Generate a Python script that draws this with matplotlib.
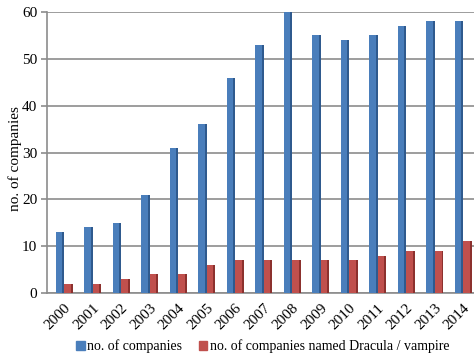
import matplotlib.pyplot as plt
import numpy as np
from matplotlib.patches import Patch

years = ["2000", "2001", "2002", "2003", "2004", "2005", "2006", "2007",
         "2008", "2009", "2010", "2011", "2012", "2013", "2014"]
companies = [13, 14, 15, 21, 31, 36, 46, 53, 60, 55, 54, 55, 57, 58, 58]
dracula = [2, 2, 3, 4, 4, 6, 7, 7, 7, 7, 7, 8, 9, 9, 11]

blue, blue_dark = "#4A7EBB", "#2F5A8E"
red, red_dark = "#C0504D", "#8C312E"

plt.rcParams['font.family'] = ['Liberation Serif', 'DejaVu Serif']

fig = plt.figure(figsize=(4.74, 3.57), dpi=100)
ax = fig.add_axes([47 / 474, 64 / 357, 427 / 474, 281 / 357])

x = np.arange(len(years))
w = 0.24
side = 0.06

# front faces plus a darker side strip to fake the 3D look
ax.bar(x - 0.15 - side / 2, companies, w, color=blue, zorder=3)
ax.bar(x - 0.15 + w / 2, companies, side, color=blue_dark, zorder=3)
ax.bar(x + 0.15 - side / 2, dracula, w, color=red, zorder=3)
ax.bar(x + 0.15 + w / 2, dracula, side, color=red_dark, zorder=3)

ax.set_xlim(-0.6, 14.38)
ax.set_ylim(0, 60)
ax.set_yticks(range(0, 61, 10))
ax.yaxis.grid(True, color="#8C8C8C", linewidth=1.2, zorder=0)
ax.set_axisbelow(True)

for s in ["top", "right"]:
    ax.spines[s].set_visible(False)
ax.spines["left"].set_color("#8C8C8C")
ax.spines["bottom"].set_color("#8C8C8C")
ax.spines["left"].set_linewidth(1.2)
ax.spines["bottom"].set_linewidth(1.2)
ax.tick_params(axis="y", colors="#8C8C8C", labelcolor="black", labelsize=11,
               length=4, width=1.2, pad=3)
ax.tick_params(axis="x", length=0, labelsize=11, pad=6)

ax.set_xticks(x)
ax.set_xticklabels(years, rotation=45, ha="right", va="top", rotation_mode="anchor")
ax.set_ylabel("no. of companies", fontsize=11)
ax.yaxis.set_label_coords(-0.058, 0.48)

handles = [Patch(color=blue), Patch(color=red)]
fig.legend(handles, ["no. of companies", "no. of companies named Dracula / vampire"],
           loc="lower center", bbox_to_anchor=(0.555, -0.025), ncol=2, frameon=False,
           fontsize=10, handlelength=0.6, handleheight=0.6, handletextpad=0.2,
           columnspacing=1.2)

fig.savefig("out.png", dpi=100)
